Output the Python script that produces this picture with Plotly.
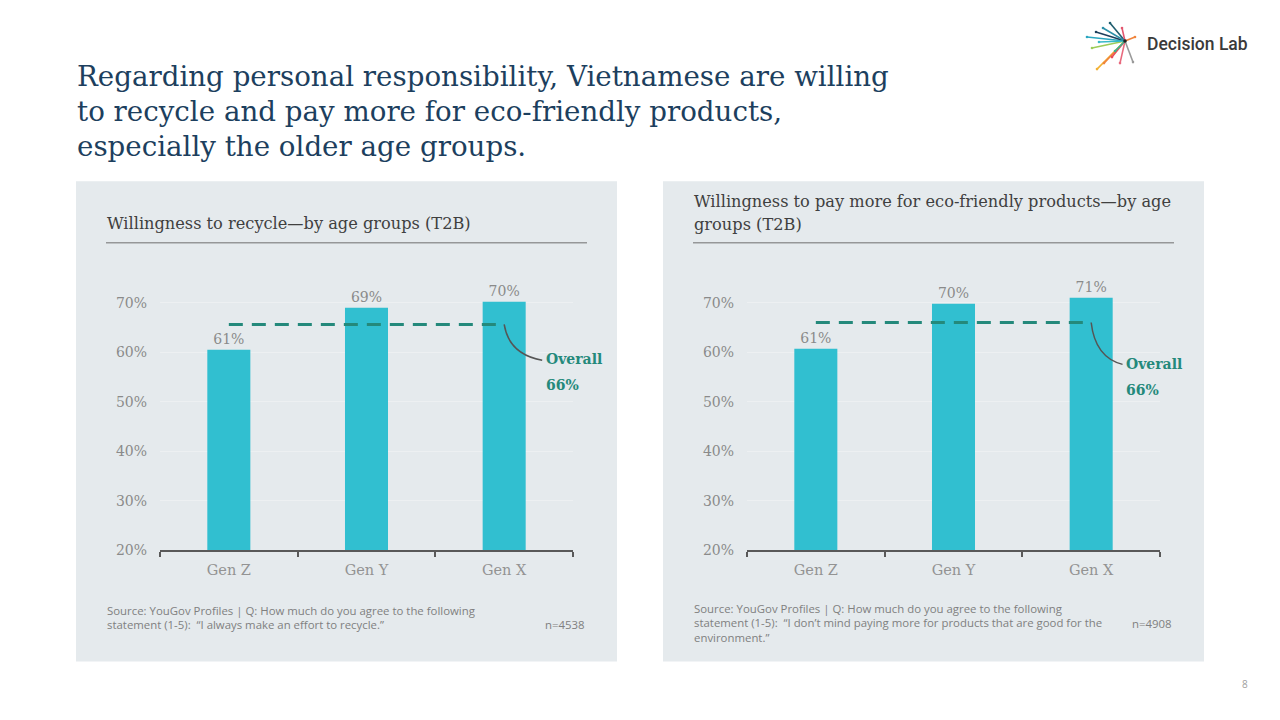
import plotly.graph_objects as go

# ---------------- data ----------------
categories = ["Gen Z", "Gen Y", "Gen X"]
recycle_values = [60.5, 69.0, 70.2]
recycle_overall = 65.6
pay_values = [60.7, 69.8, 71.0]
pay_overall = 66.0
y_tick_values = [20, 30, 40, 50, 60, 70]
y_tick_labels = ["20%", "30%", "40%", "50%", "60%", "70%"]

# ---------------- styles ----------------
W, H = 1280, 720
H_EFF = 711  # vertical extent that the page is photographed at
SERIF = "DejaVu Serif"
SANS = "Open Sans"
PANEL = "#e5eaed"
BAR = "#31bfd0"
TEAL = "#24897b"
GREY_TXT = "#8a8a8a"
TITLE_C = "#1d3f5e"
DARK = "#404040"


def px(x):
    return x / W


def py(y):
    return 1 - y / H_EFF


fig = go.Figure()

panels = [
    dict(values=recycle_values, overall=recycle_overall, xa="x", ya="y", xaxis="xaxis", yaxis="yaxis",
         dom_x=(160, 573), shift=(40, -35)),
    dict(values=pay_values, overall=pay_overall, xa="x2", ya="y2", xaxis="xaxis2", yaxis="yaxis2",
         dom_x=(747, 1160), shift=(33, -41)),
]

Y0, Y1 = 20, 75
y_bottom_px, px_per_unit = 549.3, 4.94
y_top_px = y_bottom_px - (Y1 - Y0) * px_per_unit

shapes = []
annotations = []

for p in panels:
    fig.add_trace(go.Bar(
        x=categories, y=p["values"], xaxis=p["xa"], yaxis=p["ya"],
        marker=dict(color=BAR, line=dict(width=0)),
        texttemplate="%{y:.0f}%", textposition="outside", constraintext="none",
        textfont=dict(family=SERIF, size=14, color=GREY_TXT),
        cliponaxis=False, hoverinfo="skip", showlegend=False,
    ))
    fig.add_trace(go.Scatter(
        x=[categories[0], categories[-1]], y=[p["overall"], p["overall"]],
        xaxis=p["xa"], yaxis=p["ya"], mode="lines",
        line=dict(color=TEAL, width=3, dash="14px,9px"),
        hoverinfo="skip", showlegend=False, cliponaxis=False,
    ))
    fig.layout[p["xaxis"]] = dict(
        domain=[px(p["dom_x"][0]), px(p["dom_x"][1])], anchor=p["ya"],
        type="category", range=[-0.5, 2.5], showline=True, linecolor="#595959", linewidth=1.5,
        ticks="outside", tickson="boundaries", ticklen=5, tickcolor="#595959", tickwidth=1.5,
        tickfont=dict(family=SERIF, size=14.5, color="#939393"), showgrid=False, zeroline=False,
        ticklabelstandoff=6, fixedrange=True,
    )
    fig.layout[p["yaxis"]] = dict(
        domain=[py(y_bottom_px), py(y_top_px)], anchor=p["xa"], range=[Y0, Y1],
        tickvals=y_tick_values, ticktext=y_tick_labels, showline=False, zeroline=False,
        showgrid=True, gridcolor="#edf0f2", gridwidth=1,
        tickfont=dict(family=SERIF, size=14, color=GREY_TXT), ticks="", ticklabelstandoff=12,
        fixedrange=True,
    )
    # connector curve from end of the overall line to its label
    ov = p["overall"]
    dx = p["shift"][0] / 137.6
    dy = -p["shift"][1] / px_per_unit
    shapes.append(dict(
        type="path", xref=p["xa"], yref=p["ya"],
        path=f"M 2,{ov} Q {2 + dx * 0.12},{ov - dy * 0.85} {2 + dx * 0.95},{ov - dy * 1.02}",
        line=dict(color="#555555", width=1.5),
    ))
    annotations.append(dict(
        x=categories[-1], y=ov, xref=p["xa"], yref=p["ya"], xanchor="left", yanchor="middle",
        xshift=p["shift"][0], yshift=p["shift"][1], showarrow=False,
        text="<b>Overall</b>", font=dict(family=SERIF, size=14, color=TEAL),
    ))
    annotations.append(dict(
        x=categories[-1], y=ov, xref=p["xa"], yref=p["ya"], xanchor="left", yanchor="middle",
        xshift=p["shift"][0], yshift=p["shift"][1] - 26, showarrow=False,
        text=f"<b>{ov:.0f}%</b>", font=dict(family=SERIF, size=14, color=TEAL),
    ))

# panel backgrounds
for x0, x1 in [(76, 617), (663, 1204)]:
    shapes.append(dict(type="rect", xref="paper", yref="paper", x0=px(x0), x1=px(x1),
                       y0=py(660.5), y1=py(181), fillcolor=PANEL, line=dict(width=0), layer="below"))
# rules under subtitles
for x0, x1 in [(106, 587), (693, 1174)]:
    shapes.append(dict(type="line", xref="paper", yref="paper", x0=px(x0), x1=px(x1),
                       y0=py(242.5), y1=py(242.5), line=dict(color="#6f6f6f", width=1)))


def text(x, y, s, size, color, family, xanchor="left", bold=False, weight=None):
    font = dict(family=family, size=size, color=color)
    if weight:
        font["weight"] = weight
    annotations.append(dict(
        x=px(x), y=py(y), xref="paper", yref="paper", xanchor=xanchor, yanchor="middle",
        text=f"<b>{s}</b>" if bold else s, showarrow=False,
        align=xanchor if xanchor != "center" else "center", font=font,
    ))


# main title
title_lines = [
    "Regarding personal responsibility, Vietnamese are willing",
    "to recycle and pay more for eco-friendly products,",
    "especially the older age groups.",
]
for i, line in enumerate(title_lines):
    text(75, 76 + 35 * i, line, 27.7, TITLE_C, SERIF)

# subtitles
text(105, 223, "Willingness to recycle\u2014by age groups (T2B)", 16.2, DARK, SERIF)
text(692, 201, "Willingness to pay more for eco-friendly products\u2014by age", 16.2, DARK, SERIF)
text(692, 224, "groups (T2B)", 16.2, DARK, SERIF)

# sources
SRC_C = "#808080"
FS = 11.4
text(105, 610, "Source: YouGov Profiles | Q: How much do you agree to the following", FS, SRC_C, SANS)
text(105, 624, "statement (1-5):  \u201cI always make an effort to recycle.\u201d", FS, SRC_C, SANS)
text(587, 624, "n=4538", FS, SRC_C, SANS, xanchor="right")
text(692, 608, "Source: YouGov Profiles | Q: How much do you agree to the following", FS, SRC_C, SANS)
text(692, 622, "statement (1-5):  \u201cI don\u2019t mind paying more for products that are good for the", FS, SRC_C, SANS)
text(692, 637, "environment.\u201d", FS, SRC_C, SANS)
text(1174, 623, "n=4908", FS, SRC_C, SANS, xanchor="right")

# page number
text(1245, 683, "8", 10, "#a0a0a0", SANS, xanchor="center")

# logo
text(1145, 44, "Decision Lab", 17.5, "#3a3a3a", "Roboto", weight=500)
cx, cy = 1125, 41
rays = [
    (1110, 23, "#1f5d6e"), (1122, 28, "#e2566e"), (1087, 37, "#2aa6c0"), (1096, 32, "#1e3f5c"),
    (1092, 48, "#9ccc5a"), (1097, 69, "#f2b134"), (1104, 63, "#f0843c"), (1112, 57, "#e94b5b"),
    (1120, 63, "#e8697d"), (1133, 62, "#9a9a9a"), (1135, 37, "#f0843c"), (1099, 42, "#37b9c9"),
    (1115, 51, "#3bb58c"), (1103, 28, "#2d8fa8"),
]
for x1, y1, c in rays:
    shapes.append(dict(type="line", xref="paper", yref="paper", x0=px(cx), y0=py(cy), x1=px(x1), y1=py(y1),
                       line=dict(color=c, width=1.6)))
    shapes.append(dict(type="circle", xref="paper", yref="paper", x0=px(x1 - 1.3), x1=px(x1 + 1.3),
                       y0=py(y1 + 1.3), y1=py(y1 - 1.3), fillcolor=c, line=dict(width=0)))
shapes.append(dict(type="circle", xref="paper", yref="paper", x0=px(cx - 1.8), x1=px(cx + 1.8),
                   y0=py(cy + 1.8), y1=py(cy - 1.8), fillcolor="#222222", line=dict(width=0)))

fig.update_layout(
    width=W, height=H, margin=dict(l=0, r=0, t=0, b=0),
    paper_bgcolor="white", plot_bgcolor="rgba(0,0,0,0)",
    bargap=0.6875, shapes=shapes, annotations=annotations, showlegend=False,
)

fig.write_html("out.html", config={"displayModeBar": False})
